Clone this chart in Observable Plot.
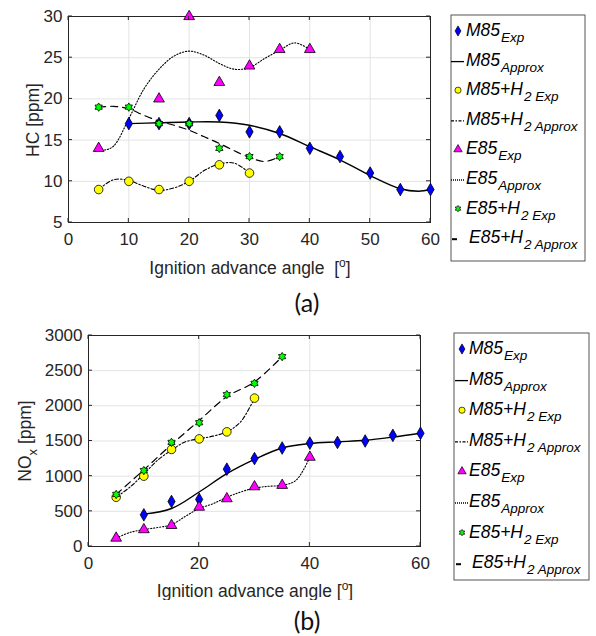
<!DOCTYPE html>
<html>
<head>
<meta charset="utf-8">
<script src="https://cdn.jsdelivr.net/npm/d3@7"></script>
<script src="https://cdn.jsdelivr.net/npm/@observablehq/plot@0.6"></script>
<style>
  body { margin: 0; background: #fff; width: 596px; height: 636px; position: relative; overflow: hidden; }
  .abs { position: absolute; }
  .panelLabel { font-family: Lato, "Open Sans", sans-serif; font-size: 25px; color: #111; transform: translate(-50%, -50%); }
</style>
</head>
<body>
<div id="chartA" class="abs" style="left:0;top:0"></div>
<div id="chartB" class="abs" style="left:0;top:300px"></div>
<svg id="legA" class="abs" style="left:0;top:0" width="596" height="636"></svg>
<div class="abs panelLabel" style="left:307px;top:302px">(a)</div>
<div class="abs panelLabel" style="left:307px;top:620px">(b)</div>
<script>
// ---------- Data ----------
// Panel (a): HC [ppm]
const hcM85X = [10, 15, 20, 25, 30, 35, 40, 45, 50, 55, 60];
const hcM85Y = [17, 17, 17, 18, 16, 16, 14, 13, 11, 9, 9];
const hcM85FitX = [10, 15, 20, 25, 30, 35, 40, 45, 50, 55, 58, 60];
const hcM85FitY = [17, 17.1, 17.2, 17.2, 16.8, 15.8, 14.2, 12.6, 10.7, 9.1, 8.8, 9.0];

const hcM85H2X = [5, 10, 15, 20, 25, 30];
const hcM85H2Y = [9, 10, 9, 10, 12, 11];
const hcM85H2FitX = [5, 7.5, 10, 12.5, 15, 17.5, 20, 22.5, 25, 27.5, 30];
const hcM85H2FitY = [9, 10.2, 10.1, 9.4, 8.9, 9.2, 10, 11.3, 12.1, 12.2, 11];

const hcE85X = [5, 15, 20, 25, 30, 35, 40];
const hcE85Y = [14, 20, 30, 22, 24, 26, 26];
const hcE85FitX = [5, 6, 7.5, 10, 12.5, 15, 17.5, 20, 22.5, 25, 27.5, 30, 32.5, 35, 37.5, 40];
const hcE85FitY = [14, 13.8, 14.3, 17.6, 21.2, 23.6, 25.2, 25.8, 25.3, 24.3, 23.6, 23.8, 24.9, 25.9, 26.8, 26];

const hcE85H2X = [5, 10, 15, 20, 25, 30, 35];
const hcE85H2Y = [19, 19, 17, 17, 14, 13, 13];
const hcE85H2FitX = [5, 7.5, 10, 12.5, 15, 17.5, 20, 22.5, 25, 27.5, 30, 32.5, 35];
const hcE85H2FitY = [19, 19.1, 18.8, 18, 17.3, 16.8, 16.2, 15.4, 14.6, 13.7, 12.9, 12.4, 13];

const hcXTicks = [0, 10, 20, 30, 40, 50, 60];
const hcYTicks = [5, 10, 15, 20, 25, 30];

// Panel (b): NOx [ppm]
const noM85X = [10, 15, 20, 25, 30, 35, 40, 45, 50, 55, 60];
const noM85Y = [450, 640, 670, 1100, 1250, 1400, 1470, 1480, 1500, 1580, 1610];
const noM85FitX = [10, 15, 20, 25, 30, 35, 40, 45, 50, 55, 60];
const noM85FitY = [460, 540, 775, 1035, 1238, 1400, 1464, 1488, 1510, 1555, 1610];

const noM85H2X = [5, 10, 15, 20, 25, 30];
const noM85H2Y = [700, 1000, 1380, 1530, 1630, 2110];
const noM85H2FitX = [5, 7.5, 10, 12.5, 15, 17.5, 20, 22.5, 25, 27.5, 30];
const noM85H2FitY = [700, 845, 1030, 1227, 1370, 1488, 1530, 1569, 1630, 1773, 2110];

const noE85X = [5, 10, 15, 20, 25, 30, 35, 40];
const noE85Y = [120, 240, 300, 560, 680, 850, 870, 1270];
const noE85FitX = [5, 7.5, 10, 12.5, 15, 17.5, 20, 22.5, 25, 27.5, 30, 32.5, 35, 37.5, 40];
const noE85FitY = [120, 200, 240, 270, 310, 428, 540, 608, 700, 775, 830, 856, 870, 941, 1270];

const noE85H2X = [5, 10, 15, 20, 25, 30, 35];
const noE85H2Y = [740, 1080, 1480, 1760, 2160, 2320, 2700];
const noE85H2FitX = [5, 10, 15, 20, 25, 30, 35];
const noE85H2FitY = [740, 1090, 1450, 1790, 2130, 2340, 2700];

const noXTicks = [0, 20, 40, 60];
const noYTicks = [0, 500, 1000, 1500, 2000, 2500, 3000];

// ---------- Styles ----------
const colM85 = "#0000ff", colM85H2 = "#ffff00", colE85 = "#ff00ff", colE85H2 = "#00ff00";
const dashM85H2 = "4,2,1.5,2", dashE85 = "1.2,1.8", dashE85H2 = "7,5";
const textColor = "#262626";
const sansFont = "Liberation Sans, Arial, Helvetica, sans-serif";

// six-pointed star (hexagram) symbol
const hexagram = {
  draw(ctx, size) {
    const R = Math.sqrt(size / Math.PI) * 1.2, r = R * 0.6;
    for (let i = 0; i < 12; i++) {
      const a = i * Math.PI / 6 - Math.PI / 2, rr = i % 2 ? r : R;
      const px = rr * Math.cos(a), py = rr * Math.sin(a);
      if (i === 0) ctx.moveTo(px, py); else ctx.lineTo(px, py);
    }
    ctx.closePath();
  }
};

function fitLine(X, Y, dash, width) {
  return Plot.line(X, {x: X, y: Y, curve: "catmull-rom", stroke: "#000", strokeWidth: width || 1.2, strokeDasharray: dash});
}
function expDots(X, Y, symbol, fill, r) {
  return Plot.dot(X, {x: X, y: Y, symbol: symbol, fill: fill, stroke: "#000", strokeWidth: 0.8, r: r});
}

function panel(opts) {
  const chart = Plot.plot({
    width: 440, height: opts.height,
    marginLeft: opts.ml, marginRight: opts.mr, marginTop: opts.mt, marginBottom: opts.mb,
    style: {fontFamily: sansFont, fontSize: "17px", color: textColor, background: "transparent"},
    x: {domain: opts.xDomain},
    y: {domain: opts.yDomain},
    marks: [
      Plot.gridX(opts.xTicks, {stroke: "#e3e3e3", strokeOpacity: 1}),
      Plot.gridY(opts.yTicks, {stroke: "#e3e3e3", strokeOpacity: 1}),
      Plot.frame({stroke: textColor, strokeWidth: 1}),
      Plot.axisX({ticks: opts.xTicks, tickSize: 0, tickPadding: 10, label: null, fill: textColor, fontSize: 17, tickFormat: d => String(d)}),
      Plot.axisY({ticks: opts.yTicks, tickSize: 0, tickPadding: 6, label: null, fill: textColor, fontSize: 17, tickFormat: d => String(d)}),
      ...opts.marks
    ]
  });
  // inward MATLAB-style ticks on all four sides, placed with the plot's own scales
  const sx = chart.scale("x"), sy = chart.scale("y");
  const svg = d3.select(chart);
  const x0 = sx.range[0], x1 = sx.range[1], y0 = sy.range[0], y1 = sy.range[1];
  const g = svg.append("g").attr("stroke", textColor).attr("stroke-width", 1);
  opts.xTicks.forEach(t => {
    const px = sx.apply(t);
    g.append("line").attr("x1", px).attr("x2", px).attr("y1", y0).attr("y2", y0 - 4);
    g.append("line").attr("x1", px).attr("x2", px).attr("y1", y1).attr("y2", y1 + 4);
  });
  opts.yTicks.forEach(t => {
    const py = sy.apply(t);
    g.append("line").attr("x1", x0).attr("x2", x0 + 4).attr("y1", py).attr("y2", py);
    g.append("line").attr("x1", x1).attr("x2", x1 - 4).attr("y1", py).attr("y2", py);
  });
  // axis titles
  const xt = svg.append("text").attr("x", opts.xLabelX).attr("y", opts.xLabelY)
    .attr("text-anchor", "middle").attr("fill", textColor).attr("font-size", 17.5)
    .attr("font-family", sansFont);
  xt.append("tspan").text(opts.xLabelText);
  xt.append("tspan").attr("dy", -7).attr("font-size", 12).text("o");
  xt.append("tspan").attr("dy", 7).text("]");
  const yt = svg.append("text")
    .attr("transform", `translate(${opts.yLabelX},${opts.yLabelY}) rotate(-90)`)
    .attr("text-anchor", "middle").attr("fill", textColor).attr("font-size", 17.5)
    .attr("font-family", sansFont);
  opts.yLabel(yt);
  return chart;
}

// ---------- Panel (a) ----------
const chartA = panel({
  height: 285, ml: 68, mr: 10, mt: 16, mb: 63,
  xDomain: [0, 60], yDomain: [5, 30], xTicks: hcXTicks, yTicks: hcYTicks,
  xLabelX: 250, xLabelY: 274, xLabelText: "Ignition advance angle  [",
  yLabelX: 39, yLabelY: 120,
  yLabel: t => t.text("HC [ppm]"),
  marks: [
    fitLine(hcM85FitX, hcM85FitY, null, 1.4),
    fitLine(hcM85H2FitX, hcM85H2FitY, dashM85H2, 1.1),
    fitLine(hcE85FitX, hcE85FitY, dashE85, 1.1),
    fitLine(hcE85H2FitX, hcE85H2FitY, dashE85H2, 1.2),
    expDots(hcM85X, hcM85Y, "diamond", colM85, 3.8),
    expDots(hcM85H2X, hcM85H2Y, "circle", colM85H2, 4.3),
    expDots(hcE85X, hcE85Y, "triangle", colE85, 4),
    expDots(hcE85H2X, hcE85H2Y, hexagram, colE85H2, 3.5)
  ]
});
document.getElementById("chartA").append(chartA);

// ---------- Panel (b) ----------
const chartB = panel({
  height: 300, ml: 88, mr: 20, mt: 35, mb: 54,
  xDomain: [0, 60], yDomain: [0, 3000], xTicks: noXTicks, yTicks: noYTicks,
  xLabelX: 255, xLabelY: 297, xLabelText: "Ignition advance angle [",
  yLabelX: 31, yLabelY: 141,
  yLabel: t => { t.append("tspan").text("NO"); t.append("tspan").attr("dy", 6).attr("font-size", 13).text("x"); t.append("tspan").attr("dy", -6).text(" [ppm]"); },
  marks: [
    fitLine(noM85FitX, noM85FitY, null, 1.4),
    fitLine(noM85H2FitX, noM85H2FitY, dashM85H2, 1.1),
    fitLine(noE85FitX, noE85FitY, dashE85, 1.1),
    fitLine(noE85H2FitX, noE85H2FitY, dashE85H2, 1.2),
    expDots(noM85X, noM85Y, "diamond", colM85, 3.8),
    expDots(noM85H2X, noM85H2Y, "circle", colM85H2, 4.3),
    expDots(noE85X, noE85Y, "triangle", colE85, 4),
    expDots(noE85H2X, noE85H2Y, hexagram, colE85H2, 3.5)
  ]
});
document.getElementById("chartB").append(chartB);

// ---------- Legends ----------
const legendMain = ["M85", "M85", "M85+H", "M85+H", "E85", "E85", "E85+H", "E85+H"];
const legendSub = ["Exp", "Approx", "2 Exp", "2 Approx", "Exp", "Approx", "2 Exp", "2 Approx"];
const legendKind = ["diamond", "solid", "circle", "dashdot", "triangle", "dotted", "hexagram", "dashed"];

function legend(box, rowStart, rowStep, markerX, textX) {
  const svg = d3.select("#legA");
  svg.append("rect").attr("x", box[0]).attr("y", box[1]).attr("width", box[2] - box[0]).attr("height", box[3] - box[1])
    .attr("fill", "#fff").attr("stroke", "#555").attr("stroke-width", 1);
  const fills = {diamond: colM85, circle: colM85H2, triangle: colE85, hexagram: colE85H2};
  legendMain.forEach((m, i) => {
    const cy = rowStart + i * rowStep;
    const kind = legendKind[i];
    if (fills[kind]) {
      const sym = kind === "diamond" ? d3.symbolDiamond : kind === "circle" ? d3.symbolCircle : kind === "triangle" ? d3.symbolTriangle : hexagram;
      const size = kind === "hexagram" ? 22 : 30;
      svg.append("path").attr("d", d3.symbol(sym, size)()).attr("transform", `translate(${markerX},${cy + 1})`)
        .attr("fill", fills[kind]).attr("stroke", "#000").attr("stroke-width", 0.7);
    } else {
      const dash = kind === "dashdot" ? "3,1.5,1.5,1.5" : kind === "dotted" ? "1,1" : kind === "dashed" ? "5,3" : null;
      const x1 = kind === "dashed" ? markerX - 6 : markerX - 7;
      const x2 = kind === "dashed" ? markerX - 1 : markerX + 6;
      svg.append("line").attr("x1", x1).attr("x2", x2).attr("y1", cy + 2).attr("y2", cy + 2)
        .attr("stroke", "#000").attr("stroke-width", kind === "dashed" ? 2 : 1.3).attr("stroke-dasharray", dash);
    }
    const t = svg.append("text").attr("x", textX + (kind === "dashed" ? 3 : 0)).attr("y", cy + 6)
      .attr("font-family", sansFont).attr("font-style", "italic")
      .attr("font-size", 17.5).attr("fill", "#000");
    t.append("tspan").text(m);
    t.append("tspan").attr("dy", 6).attr("font-size", 13.5).attr("dx", 1).text(legendSub[i]);
  });
}
legend([451, 15, 585, 261], 30, 29.6, 458, 466);
legend([454, 333, 589, 580], 348, 30.6, 462, 469);
</script>
</body>
</html>
